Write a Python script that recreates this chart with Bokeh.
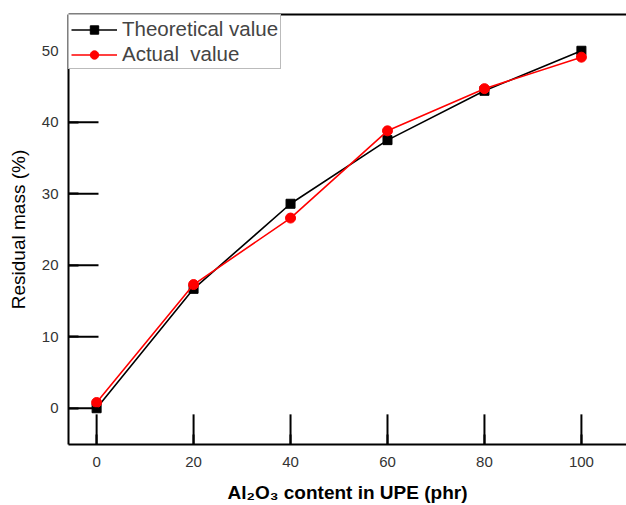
import math
from bokeh.plotting import figure
from bokeh.models import LinearAxis, Range1d, Legend, LegendItem, FixedTicker
from bokeh.embed import file_html
from bokeh.resources import INLINE

content = [0, 20, 40, 60, 80, 100]
theoretical = [0.0, 16.7, 28.6, 37.5, 44.4, 50.0]
actual = [0.8, 17.3, 26.6, 38.8, 44.7, 49.1]
x_ticks = [0, 20, 40, 60, 80, 100]
y_ticks = [0, 10, 20, 30, 40, 50]
x_min, x_max = -5.8, 109.3
y_min, y_max = -5.07, 55.07

W, H = 626, 505
left, top_b = 68, 14
frame_w = W - left
frame_h = 428
tick_px = 30
tick_dx = tick_px * (x_max - x_min) / frame_w
tick_dy = tick_px * (y_max - y_min) / frame_h

p = figure(width=W, height=H, output_backend="svg", toolbar_location=None,
           x_range=Range1d(x_min, x_max), y_range=Range1d(y_min, y_max),
           min_border_left=left, min_border_right=0, min_border_top=top_b, min_border_bottom=6)
p.outline_line_color = None
p.xgrid.visible = False
p.ygrid.visible = False
p.border_fill_color = "white"

p.segment(x0=x_ticks, y0=[y_min] * len(x_ticks), x1=x_ticks, y1=[y_min + tick_dy] * len(x_ticks),
          line_color="black", line_width=2, level="overlay")
p.segment(x0=[x_min] * len(y_ticks), y0=y_ticks, x1=[x_min + tick_dx] * len(y_ticks), y1=y_ticks,
          line_color="black", line_width=2, level="overlay")

r1 = p.line(content, theoretical, line_color="black", line_width=1.6)
s1 = p.scatter(content, theoretical, marker="square", size=9, fill_color="black", line_color="black")
r2 = p.line(content, actual, line_color="#ff0000", line_width=1.6)
s2 = p.scatter(content, actual, marker="circle", size=10, fill_color="#ff0000", line_color="#ff0000")

font = "Liberation Sans"
for ax in (p.xaxis[0], p.yaxis[0]):
    ax.axis_line_width = 2
    ax.axis_line_color = "black"
    ax.major_tick_in = 10
    ax.major_tick_out = 0
    ax.major_tick_line_width = 2
    ax.major_tick_line_color = "black"
    ax.minor_tick_in = 0
    ax.minor_tick_out = 0
    ax.major_label_text_font = font
    ax.major_label_text_font_size = "15px"
    ax.major_label_text_color = "#333333"
    ax.axis_label_text_font = font
    ax.axis_label_text_color = "black"

p.xaxis[0].ticker = FixedTicker(ticks=x_ticks)
p.yaxis[0].ticker = FixedTicker(ticks=y_ticks)
p.xaxis[0].major_label_standoff = 12
p.yaxis[0].major_label_standoff = 10
p.xaxis[0].axis_label = "Al\u2082O\u2083 content in UPE (phr)"
p.xaxis[0].axis_label_text_font_style = "bold"
p.xaxis[0].axis_label_text_font_size = "19px"
p.xaxis[0].axis_label_standoff = 12
p.yaxis[0].axis_label = "Residual mass (%)"
p.yaxis[0].axis_label_text_font_style = "normal"
p.yaxis[0].axis_label_text_font_size = "19px"
p.yaxis[0].axis_label_standoff = 10

top = LinearAxis(ticker=FixedTicker(ticks=[]), axis_line_width=2, axis_line_color="black",
                 major_tick_in=0, major_tick_out=0, minor_tick_in=0, minor_tick_out=0,
                 major_label_standoff=0)
p.add_layout(top, "above")

legend = Legend(items=[LegendItem(label="Theoretical value", renderers=[r1, s1]),
                       LegendItem(label="Actual  value", renderers=[r2, s2])],
                location="top_left", margin=0, padding=2, spacing=1,
                label_text_font=font, label_text_font_size="20.5px",
                glyph_width=46, glyph_height=21, label_standoff=5,
                border_line_color="#777777", border_line_width=1,
                background_fill_alpha=1.0)
p.add_layout(legend)

open("out.html", "w").write(file_html(p, INLINE))
